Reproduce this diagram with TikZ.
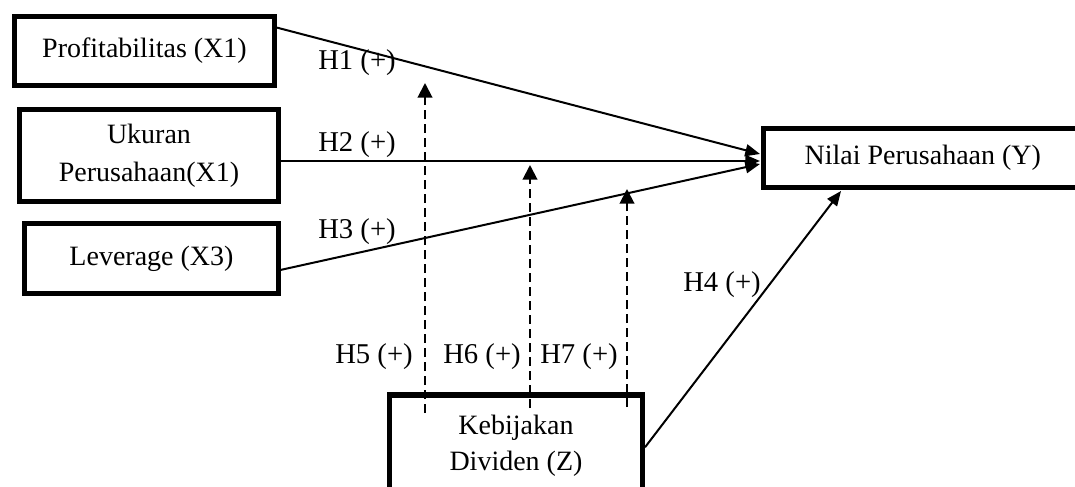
\documentclass[tikz,border=0pt]{standalone}
\usepackage{fontspec}
\setmainfont{Liberation Serif}
\usetikzlibrary{arrows.meta,calc}
\begin{document}
\begin{tikzpicture}[x=0.75pt,y=-0.75pt,
  box/.style={draw=black,line width=3.8pt,fill=white,inner sep=0pt,align=center,
    font=\fontsize{21}{28.5}\selectfont},
  conn/.style={line width=1.5pt,-{Triangle[length=11pt,width=9pt]}},
  modline/.style={line width=1.5pt,dash pattern=on 6.5pt off 4pt,-{Triangle[length=11pt,width=11pt]}},
  hlab/.style={inner sep=0pt,font=\fontsize{21.5}{24}\selectfont}]
\clip (0,0) rectangle (1075,486);
\fill[white] (0,0) rectangle (1075,486);
% boxes
\node[box,minimum width={260*0.75pt},minimum height={69*0.75pt}] (b1) at (144.5,51) {Profitabilitas (X1)};
\node[box,minimum width={259*0.75pt},minimum height={92*0.75pt}] (b2) at (149,155.5) {Ukuran\\Perusahaan(X1)};
\node[box,minimum width={254*0.75pt},minimum height={70*0.75pt}] (b3) at (151.5,258.5) {Leverage (X3)};
\node[box,minimum width={324*0.75pt},minimum height={59*0.75pt}] (n) at (925.5,158) {\hspace*{-4pt}Nilai Perusahaan (Y)};
\node[box,minimum width={253*0.75pt},minimum height={100*0.75pt}] (k) at (516,445) {\raisebox{2.5pt}{\begin{tabular}{@{}c@{}}Kebijakan\\[-1pt]Dividen (Z)\end{tabular}}};
% arrow tips and dashed starts
\coordinate (t1) at (760,154);
\coordinate (t2) at (760,161);
\coordinate (t3) at (760,164);
\coordinate (t4) at (841,191);
\coordinate (d5) at (425,413);
\coordinate (e5) at (425,83);
\coordinate (d6) at (530,408);
\coordinate (e6) at (530,165);
\coordinate (d7) at (627,407);
\coordinate (e7) at (627,189);
% connectors
\draw[conn] (b1.10) -- (t1);
\draw[conn] (b2.east |- t2) -- (t2);
\draw[conn] (b3.-5.5) -- (t3);
\draw[conn] (k.-1.3) -- (t4);
\draw[modline] (d5) -- (e5);
\draw[modline] (d6) -- (e6);
\draw[modline] (d7) -- (e7);
% labels
\node[hlab] (h1) at (357,63) {H1 (+)};
\node[hlab] (h2) at (357,145) {H2 (+)};
\node[hlab] (h3) at (357,232) {H3 (+)};
\node[hlab] (h4) at (722,285) {H4 (+)};
\node[hlab] (h5) at (374,357) {H5 (+)};
\node[hlab] (h6) at (482,357) {H6 (+)};
\node[hlab] (h7) at (579,357) {H7 (+)};
\end{tikzpicture}
\end{document}
